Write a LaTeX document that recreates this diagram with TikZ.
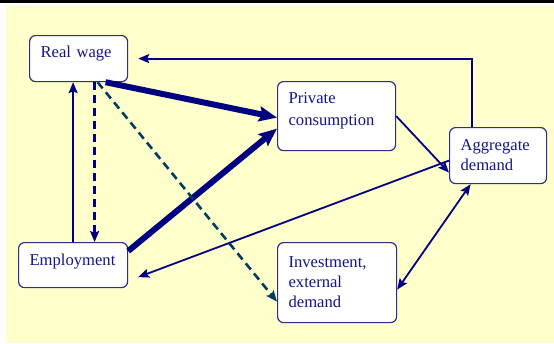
\documentclass[tikz,border=0pt]{standalone}
\usepackage{fontspec}
\setmainfont{Liberation Serif}
\usetikzlibrary{arrows.meta}
\definecolor{flownavy}  {RGB}{0,0,128}
\definecolor{flowteal}  {RGB}{0,60,100}
\definecolor{boxedge}   {RGB}{45,45,140}
\definecolor{textnavy}  {RGB}{20,20,135}
\definecolor{paneyellow}{RGB}{255,255,204}

\begin{document}
\begin{tikzpicture}[x=1pt,y=-1pt,
  every node/.style={font=\rmfamily\fontsize{16.6}{20}\selectfont,text=textnavy},
  box/.style={draw=boxedge,line width=1.2pt,fill=white,rounded corners=6pt,
              anchor=north west,align=left,inner xsep=11pt,inner ysep=0pt},
  arr/.style={-{Stealth[length=11pt,width=9pt,inset=2pt]},line width=1.8pt,flownavy},
  darr/.style={{Stealth[length=11pt,width=9pt,inset=2pt]}-{Stealth[length=11pt,width=9pt,inset=2pt]},
               line width=1.8pt,flownavy},
  bigarr/.style={-{Stealth[length=18pt,width=15pt,inset=3pt]},line width=6pt,flownavy},
  dasharr/.style={-{Stealth[length=11pt,width=9pt,inset=2pt]},line width=2.6pt,
                  dash pattern=on 8pt off 5pt},
]
\useasboundingbox (0,0) rectangle (554,343);

%% ── panel ────────────────────────────────────────────────────────────────
\fill[paneyellow] (6,6) rectangle (554,343);
\fill[black] (0,0) rectangle (554,2.7);

%% ── boxes ────────────────────────────────────────────────────────────────
\node[box,text width=76pt,text height=22pt,text depth=24pt] (rw) at (29,35)
  {Real wage};
\node[box,text width=96pt,text height=22pt,text depth=47pt] (pc) at (277,81)
  {Private\\[2pt]consumption};
\node[box,text width=75pt,text height=23pt,text depth=33pt] (ad) at (449,127)
  {Aggregate\\demand};
\node[box,text width=87pt,text height=23pt,text depth=22pt] (emp) at (18,242)
  {Employment};
\node[box,text width=97pt,text height=25pt,text depth=55pt] (inv) at (277,242)
  {Investment,\\external\\demand};

%% ── strong links into consumption ───────────────────────────────────────
\draw[bigarr] ([xshift=27pt]rw.south) -- ([yshift=-1.5pt]pc.west);
\draw[bigarr] ([yshift=-9pt]emp.north east) -- ([yshift=-12.5pt]pc.west);

%% ── demand side ─────────────────────────────────────────────────────────
\draw[arr] (pc.east) -- ([yshift=-17pt]ad.west);
\draw[arr] ([yshift=-5pt]ad.west) -- ([xshift=10pt,yshift=-12pt]emp.east);
\draw[arr] ([xshift=-26.5pt]ad.north) |- ([xshift=10pt]rw.east);
\draw[darr] ([xshift=-27.5pt]ad.south) -- ([yshift=-7pt]inv.east);

%% ── wage / employment loop ──────────────────────────────────────────────
\draw[arr] (emp.north) -- (emp.north |- rw.south);
\draw[dasharr,flownavy] ([xshift=16pt]rw.south) -- ([xshift=21.5pt]emp.north);
\draw[dasharr,flowteal] ([xshift=19pt]rw.south) -- ([yshift=-19pt]inv.west);

\end{tikzpicture}
\end{document}
